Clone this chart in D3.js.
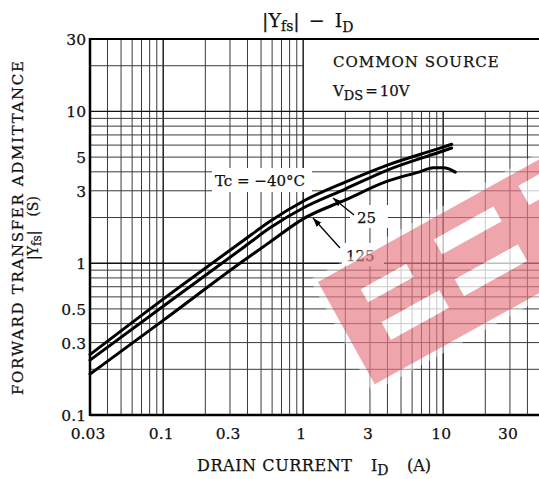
<!DOCTYPE html>
<html>
<head>
<meta charset="utf-8">
<script src="https://cdn.jsdelivr.net/npm/d3@7"></script>
<style>
  body { margin: 0; background: #fff; }
  text { font-family: "DejaVu Serif", serif; fill: #111; stroke: #111; stroke-width: 0.25; }
</style>
</head>
<body>
<script>
// drain current (A) and |Yfs| (S)
var idCold = [0.03, 0.1, 0.37, 0.58, 1, 2, 4, 9.5, 11.5];
var yfsCold = [0.25, 0.58, 1.40, 1.89, 2.56, 3.42, 4.43, 5.73, 6.08];

var idRoom = [0.03, 0.1, 0.37, 0.58, 1, 2, 4, 9.5, 11.5];
var yfsRoom = [0.23, 0.52, 1.26, 1.71, 2.31, 3.08, 4.11, 5.40, 5.74];

var idHot = [0.03, 0.1, 0.37, 0.58, 1, 2, 4, 6.8, 8.5, 10, 11, 12.2];
var yfsHot = [0.186, 0.42, 1.03, 1.38, 1.96, 2.61, 3.47, 4.0, 4.25, 4.26, 4.18, 3.98];

var xTicks = [0.03, 0.1, 0.3, 1, 3, 10, 30];
var yTicks = [30, 10, 5, 3, 1, 0.5, 0.3, 0.1];

var width = 539, height = 479;

var svg = d3.select("body").append("svg")
    .attr("width", width)
    .attr("height", height);

var x = d3.scaleLog().domain([0.03, 50]).range([90, 541]);
var y = d3.scaleLog().domain([0.1, 30]).range([415, 39]);

// grid values 1..9 per decade
var xGrid = [];
[0.01, 0.1, 1, 10].forEach(function(d) {
    for (var m = 1; m <= 9; m++) {
        var v = +(m * d).toPrecision(3);
        if (v > 0.03 && v <= 50) xGrid.push(v);
    }
});
var yGrid = [];
[0.1, 1, 10].forEach(function(d) {
    for (var m = 1; m <= 9; m++) {
        var v = +(m * d).toPrecision(3);
        if (v > 0.1 && v < 30) yGrid.push(v);
    }
});
function isDecade(v) {
    return Math.abs(Math.log10(v) - Math.round(Math.log10(v))) < 1e-6;
}

var grid = svg.append("g");
grid.selectAll("line.vx").data(xGrid).enter().append("line")
    .attr("x1", function(d) { return x(d); })
    .attr("x2", function(d) { return x(d); })
    .attr("y1", y(0.1))
    .attr("y2", function(d) { return d > 1 ? y(10) : y(30); })
    .attr("stroke", function(d) { return isDecade(d) ? "#111" : "#3a3a3a"; })
    .attr("stroke-width", function(d) { return isDecade(d) ? 1.4 : 1; });
grid.selectAll("line.hy").data(yGrid).enter().append("line")
    .attr("y1", function(d) { return y(d); })
    .attr("y2", function(d) { return y(d); })
    .attr("x1", x(0.03))
    .attr("x2", function(d) { return d > 10 ? x(1) : width; })
    .attr("stroke", function(d) { return isDecade(d) ? "#111" : "#3a3a3a"; })
    .attr("stroke-width", function(d) { return isDecade(d) ? 1.4 : 1; });

// frame
svg.append("line").attr("x1", x(0.03)).attr("x2", width).attr("y1", y(30)).attr("y2", y(30))
    .attr("stroke", "#000").attr("stroke-width", 2.2);
svg.append("line").attr("x1", x(0.03)).attr("x2", width).attr("y1", y(0.1)).attr("y2", y(0.1))
    .attr("stroke", "#000").attr("stroke-width", 2.5);
svg.append("line").attr("x1", x(0.03)).attr("x2", x(0.03)).attr("y1", y(30) - 1).attr("y2", y(0.1) + 1)
    .attr("stroke", "#000").attr("stroke-width", 2.5);

// white boxes behind labels
[[212, 168, 100, 24], [350, 205, 38, 23], [342, 243, 42, 23]].forEach(function(b) {
    svg.append("rect").attr("x", b[0]).attr("y", b[1]).attr("width", b[2]).attr("height", b[3])
        .attr("fill", "#fff");
});

// curves
var line = d3.line()
    .x(function(d) { return x(d[0]); })
    .y(function(d) { return y(d[1]); })
    .curve(d3.curveMonotoneX);

[[idCold, yfsCold], [idRoom, yfsRoom], [idHot, yfsHot]].forEach(function(s) {
    svg.append("path")
        .datum(d3.zip(s[0], s[1]))
        .attr("d", line)
        .attr("fill", "none")
        .attr("stroke", "#000")
        .attr("stroke-width", 3)
        .attr("stroke-linecap", "round");
});

// tick labels
svg.selectAll("text.xt").data(xTicks).enter().append("text")
    .attr("x", function(d) { return x(d) - 2; })
    .attr("y", 439)
    .attr("text-anchor", "middle")
    .attr("font-size", 15.5)
    .text(function(d) { return d; });
svg.selectAll("text.yt").data(yTicks).enter().append("text")
    .attr("x", 86)
    .attr("y", function(d) { return y(d) + 6; })
    .attr("text-anchor", "end")
    .attr("font-size", 15.5)
    .text(function(d) { return d; });

// title
var title = svg.append("text").attr("x", 262).attr("y", 27).attr("font-size", 19);
title.append("tspan").text("|Y");
title.append("tspan").attr("font-size", 14).attr("dy", 4).text("fs");
title.append("tspan").attr("dy", -4).text("|");
title.append("tspan").attr("dx", 9).text("\u2212");
title.append("tspan").attr("dx", 10).text("I");
title.append("tspan").attr("font-size", 14).attr("dy", 5).text("D");

// condition text
svg.append("text").attr("x", 333).attr("y", 67).attr("font-size", 15)
    .attr("letter-spacing", 1).text("COMMON SOURCE");
var vds = svg.append("text").attr("x", 333).attr("y", 96).attr("font-size", 15);
vds.append("tspan").text("V");
vds.append("tspan").attr("font-size", 13).attr("dy", 4).text("DS");
vds.append("tspan").attr("dy", -4).attr("dx", 2).text("=");
vds.append("tspan").attr("dx", 2).text("10V");

// curve labels
svg.append("text").attr("x", 215).attr("y", 186).attr("font-size", 15).text("Tc = \u221240\u00b0C");
svg.append("text").attr("x", 357).attr("y", 223).attr("font-size", 15).text("25");
svg.append("text").attr("x", 346).attr("y", 261).attr("font-size", 15).text("125");

svg.append("defs").append("marker")
    .attr("id", "ah").attr("viewBox", "0 0 10 10").attr("refX", 10).attr("refY", 5)
    .attr("markerWidth", 7).attr("markerHeight", 7).attr("orient", "auto")
    .append("path").attr("d", "M0,1.5 L10,5 L0,8.5 Z").attr("fill", "#000");
[[354, 215, 333, 198], [340, 248, 313, 218]].forEach(function(a) {
    svg.append("line").attr("x1", a[0]).attr("y1", a[1]).attr("x2", a[2]).attr("y2", a[3])
        .attr("stroke", "#000").attr("stroke-width", 1.3).attr("marker-end", "url(#ah)");
});

// axis titles
var xl = svg.append("text").attr("x", 197).attr("y", 471).attr("font-size", 16);
xl.append("tspan").attr("textLength", 155).text("DRAIN CURRENT");
xl.append("tspan").attr("x", 371).text("I");
xl.append("tspan").attr("font-size", 14).attr("dy", 4).text("D");
xl.append("tspan").attr("dy", -4).attr("x", 407).text("(A)");

svg.append("text")
    .attr("transform", "translate(23,228) rotate(-90)")
    .attr("text-anchor", "middle")
    .attr("font-size", 15)
    .attr("textLength", 334)
    .attr("lengthAdjust", "spacing")
    .text("FORWARD TRANSFER ADMITTANCE");
var yl = svg.append("text")
    .attr("transform", "translate(38,228) rotate(-90)")
    .attr("text-anchor", "middle")
    .attr("font-size", 14);
yl.append("tspan").text("|Y");
yl.append("tspan").attr("font-size", 12).attr("dy", 3).text("fs");
yl.append("tspan").attr("dy", -3).text("|");
yl.append("tspan").attr("dx", 14).text("(S)");

// watermark
var wm = svg.append("g").attr("transform", "translate(318,282) rotate(-29)");
var holes = [[34, 27, 52, 15], [36, 66, 66, 20], [122, 19, 68, 17], [121, 64, 72, 19], [222, 13, 42, 22]];
function rectPath(r) {
    return "M" + r[0] + "," + r[1] + "h" + r[2] + "v" + r[3] + "h" + (-r[2]) + "Z";
}
wm.append("rect").attr("x", -6).attr("y", -6).attr("width", 340).attr("height", 129)
    .attr("fill", "#fff").attr("opacity", 0.45);
wm.append("path")
    .attr("d", rectPath([0, 0, 330, 117]) + holes.map(rectPath).join(""))
    .attr("fill-rule", "evenodd")
    .attr("fill", "rgb(215,40,55)")
    .attr("opacity", 0.42);
wm.selectAll("path.h").data(holes).enter().append("path")
    .attr("d", rectPath)
    .attr("fill", "#fff")
    .attr("opacity", 0.5);
</script>
</body>
</html>
